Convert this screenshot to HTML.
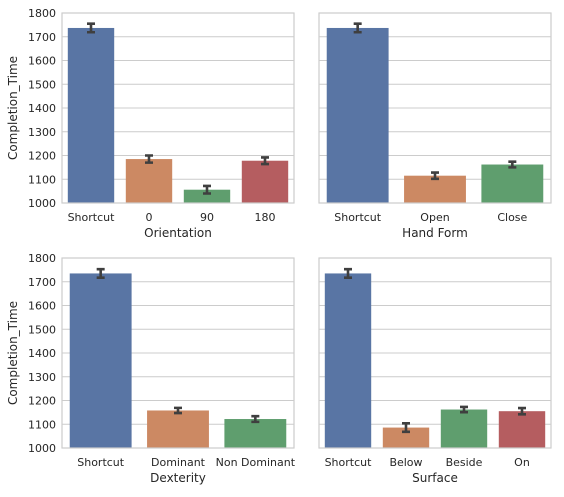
<!DOCTYPE html>
<html><head><meta charset="utf-8"><style>
body{margin:0;background:#fff;width:564px;height:492px;overflow:hidden}
svg{font-family:"DejaVu Sans","Liberation Sans",sans-serif;fill:#262626}
</style></head><body>
<svg id="c" width="564" height="492"></svg>
<script>
const yTicks=[1000,1100,1200,1300,1400,1500,1600,1700,1800];
const catsA=["Shortcut","0","90","180"], valsA=[1737,1185,1056,1178], errA=[18,15,16,14];
const catsB=["Shortcut","Open","Close"], valsB=[1737,1115,1162], errB=[18,13,12];
const catsC=["Shortcut","Dominant","Non Dominant"], valsC=[1735,1158,1122], errC=[18,11,12];
const catsD=["Shortcut","Below","Beside","On"], valsD=[1735,1086,1162,1155], errD=[18,18,11,13];
const colors=["#5975a4","#cc8963","#5f9e6e","#b55d60"];
const panels=[
 {x0:62,x1:294,y0:13,y1:203,cats:catsA,vals:valsA,err:errA,xl:"Orientation",yl:true,n:"orientation"},
 {x0:319,x1:551,y0:13,y1:203,cats:catsB,vals:valsB,err:errB,xl:"Hand Form",yl:false,n:"hand-form"},
 {x0:62,x1:294,y0:258,y1:448,cats:catsC,vals:valsC,err:errC,xl:"Dexterity",yl:true,n:"dexterity"},
 {x0:319,x1:551,y0:258,y1:448,cats:catsD,vals:valsD,err:errD,xl:"Surface",yl:false,n:"surface"}];
const svg=document.getElementById('c');const NS="http://www.w3.org/2000/svg";
function mk(t,a,txt){const e=document.createElementNS(NS,t);for(const k in a)e.setAttribute(k,a[k]);if(txt!==undefined)e.textContent=txt;svg.appendChild(e);return e;}
panels.forEach(p=>{
 const y=v=>p.y1-(v-1000)/800*(p.y1-p.y0);
 const bw=(p.x1-p.x0)/p.cats.length;
 yTicks.forEach(t=>{const g=mk('line',{x1:p.x0,x2:p.x1,y1:y(t),y2:y(t),stroke:'#cccccc','stroke-width':1});
  
  if(p.yl){const l=mk('text',{x:p.x0-6,y:y(t)+4,'text-anchor':'end','font-size':11},t);
   }});
 p.cats.forEach((c,i)=>{
  const cx=p.x0+bw*(i+0.5),w=bw*0.8;
  const b=mk('rect',{x:cx-w/2,y:y(p.vals[i]),width:w,height:p.y1-y(p.vals[i]),fill:colors[i]});
  
  const t=y(p.vals[i]+p.err[i]),bo=y(p.vals[i]-p.err[i]);
  const e=mk('path',{d:`M${cx},${t}V${bo}M${cx-4},${t}H${cx+4}M${cx-4},${bo}H${cx+4}`,stroke:'#3f3f3f','stroke-width':2.6,fill:'none'});
  
  const l=mk('text',{x:cx,y:p.y1+18,'text-anchor':'middle','font-size':11},c);
  });
 const f=mk('rect',{x:p.x0,y:p.y0,width:p.x1-p.x0,height:p.y1-p.y0,fill:'none',stroke:'#cccccc','stroke-width':1.2});
 
 const xl=mk('text',{x:(p.x0+p.x1)/2,y:p.y1+34,'text-anchor':'middle','font-size':12},p.xl);
 
 if(p.yl){const cy=(p.y0+p.y1)/2;const yl=mk('text',{x:17,y:cy,'text-anchor':'middle','font-size':12,transform:`rotate(-90 17 ${cy})`},"Completion_Time");
  }
});
</script></body></html>
